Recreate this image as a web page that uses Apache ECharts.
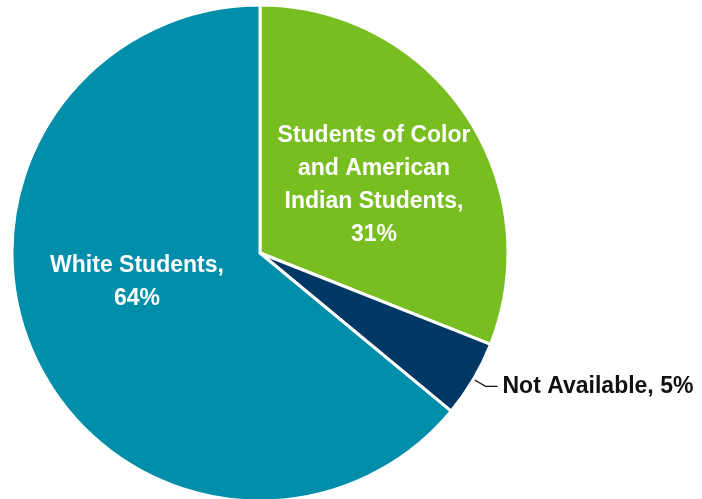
<!DOCTYPE html>
<html>
<head>
<meta charset="utf-8">
<script src="https://cdn.jsdelivr.net/npm/echarts@6/dist/echarts.min.js"></script>
<style>html,body{margin:0;padding:0;background:#fff}#c{width:702px;height:499px}</style>
</head>
<body>
<div id="c"></div>
<script>
var categories = ['Students of Color\nand American\nIndian Students', 'Not Available', 'White Students'];
var values = [31, 5, 64];
var colors = ['#78BE21', '#003865', '#008EAA'];

var chart = echarts.init(document.getElementById('c'), null, {renderer: 'canvas'});
var data = categories.map(function (c, i) {
  var item = {name: c, value: values[i], itemStyle: {color: colors[i]}};
  if (i === 1) {
    item.label = {position: 'outside', color: '#111', padding: [0, 0, 6, 0], formatter: function (p) { return p.name + ', ' + p.value + '%'; }};
    item.labelLine = {show: true, length: 14, length2: 12, lineStyle: {color: '#111', width: 1.2}};
  } else {
    item.label = {position: 'inner', color: '#fff'};
    item.labelLine = {show: false};
  }
  return item;
});
chart.setOption({
  animation: false,
  series: [{
    type: 'pie',
    center: [260, 253],
    radius: [0, 248],
    startAngle: 90,
    clockwise: true,
    avoidLabelOverlap: false,
    itemStyle: {borderColor: '#fff', borderWidth: 3},
    label: {
      fontFamily: 'Liberation Sans',
      fontWeight: 'bold',
      fontSize: 23,
      lineHeight: 33,
      align: 'center',
      formatter: function (p) { return p.name + ',\n' + p.value + '%'; }
    },
    labelLayout: function (params) {
      if (params.dataIndex === 0) return {x: 374, y: 185};
      if (params.dataIndex === 2) return {x: 137, y: 282};
      return {};
    },
    data: data
  }]
});
</script>
</body>
</html>
